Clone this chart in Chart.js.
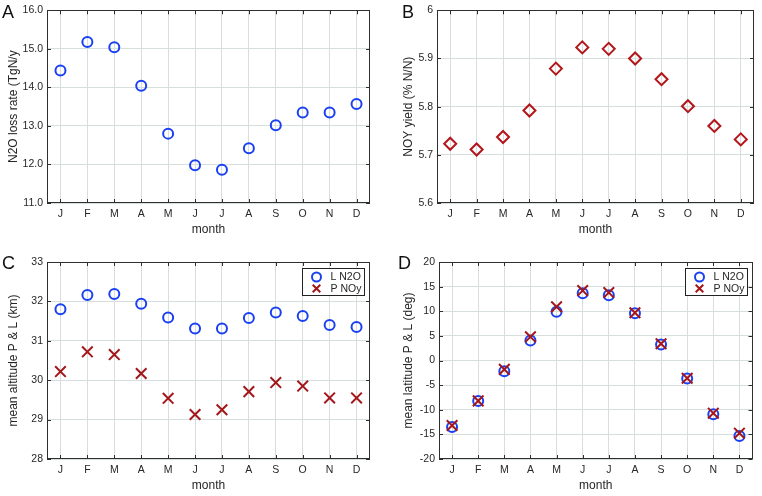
<!DOCTYPE html>
<html><head><meta charset="utf-8">
<script src="https://cdn.jsdelivr.net/npm/chart.js@4.4.1/dist/chart.umd.min.js"></script>
<style>
html,body{margin:0;padding:0;background:#fff;overflow:hidden;}
#wrap{position:relative;width:762px;height:496px;}
canvas{position:absolute;}
.lbl{position:absolute;font:18px "Liberation Sans",Arial,sans-serif;color:#111;line-height:18px;}
</style></head><body>
<div id="wrap">
<canvas id="cA" width="381" height="248" style="left:0;top:0"></canvas>
<canvas id="cB" width="381" height="248" style="left:381px;top:0"></canvas>
<canvas id="cC" width="381" height="248" style="left:0;top:248px"></canvas>
<canvas id="cD" width="381" height="248" style="left:381px;top:248px"></canvas>
<div class="lbl" style="left:2px;top:2.6px">A</div>
<div class="lbl" style="left:402px;top:2.6px">B</div>
<div class="lbl" style="left:2px;top:253.6px">C</div>
<div class="lbl" style="left:398px;top:253.6px">D</div>
</div>
<script>
// ---- data ----
const months = ['J','F','M','A','M','J','J','A','S','O','N','D'];
const n2oLoss = [14.44,15.18,15.04,14.04,12.80,11.98,11.86,12.42,13.02,13.35,13.35,13.57];
const noyYield = [5.723,5.711,5.737,5.792,5.879,5.923,5.920,5.900,5.857,5.801,5.760,5.732];
const altL = [31.80,32.16,32.19,31.94,31.59,31.31,31.31,31.58,31.72,31.63,31.40,31.35];
const altP = [30.22,30.72,30.65,30.17,29.54,29.13,29.25,29.71,29.94,29.85,29.55,29.55];
const latL = [-13.5,-8.2,-2.2,4.05,9.9,13.65,13.25,9.6,3.25,-3.65,-10.9,-15.35];
const latP = [-13.2,-8.2,-1.8,4.8,10.9,14.2,13.8,9.7,3.4,-3.6,-10.7,-14.75];
const ticksA = [11,12,13,14,15,16];
const ticksB = [5.6,5.7,5.8,5.9,6.0];
const ticksC = [28,29,30,31,32,33];
const ticksD = [-20,-15,-10,-5,0,5,10,15,20];
const legendLabels = ['L N2O','P NOy'];

Chart.defaults.font.family = '"Liberation Sans", Arial, Helvetica, sans-serif';
const txt = '#262626';
const gridColor = 'rgb(214,222,222)';
const blue = '#1a40f2';
const red = '#b3161a';
const xred = '#a3161a';
const titleSize = 12;
const halfLH = titleSize*1.2/2;

const framePlugin = {
  id:'frame',
  afterDatasetsDraw(chart){
    const {ctx, chartArea:a, scales} = chart;
    ctx.save();
    ctx.strokeStyle = '#2e2e2e'; ctx.lineWidth = 1;
    ctx.beginPath();
    const tl = 4;
    scales.x.ticks.forEach((t,i)=>{
      const px = Math.round(scales.x.getPixelForTick(i))+0.5;
      ctx.moveTo(px,a.bottom); ctx.lineTo(px,a.bottom-tl);
      ctx.moveTo(px,a.top); ctx.lineTo(px,a.top+tl);
    });
    scales.y.ticks.forEach((t)=>{
      const py = Math.round(scales.y.getPixelForValue(t.value))+0.5;
      ctx.moveTo(a.left,py); ctx.lineTo(a.left+tl,py);
      ctx.moveTo(a.right,py); ctx.lineTo(a.right-tl,py);
    });
    ctx.stroke();
    ctx.strokeRect(Math.round(a.left)+0.5, Math.round(a.top)+0.5, Math.round(a.right-a.left)-1, Math.round(a.bottom-a.top)-1);
    const lo = chart.options.plugins.frame || {};
    if (lo.legend){
      const w=62,h=27;
      const x0 = Math.round(a.right-6-w)+0.5, y0 = Math.round(a.top+6)+0.5;
      ctx.fillStyle='#fff'; ctx.fillRect(x0,y0,w,h);
      ctx.strokeStyle='#222'; ctx.lineWidth=1; ctx.strokeRect(x0,y0,w,h);
      chart.data.datasets.forEach((ds,i)=>{
        const cy = y0 + 8.5 + i*11.5, mx = x0 + 14;
        ctx.strokeStyle = ds.pointBorderColor; ctx.lineWidth = 2;
        ctx.beginPath();
        if (ds.pointStyle==='circle'){ ctx.arc(mx,cy,4.5,0,Math.PI*2); }
        else { const r=3.8; ctx.moveTo(mx-r,cy-r); ctx.lineTo(mx+r,cy+r); ctx.moveTo(mx+r,cy-r); ctx.lineTo(mx-r,cy+r); }
        ctx.stroke();
        ctx.fillStyle = txt; ctx.font = '10.5px "Liberation Sans", Arial, sans-serif';
        ctx.textBaseline='middle'; ctx.textAlign='left';
        ctx.fillText(ds.label, x0+28, cy+0.5);
      });
    }
    ctx.restore();
  }
};

function panel(id, cfg){
  const W=381,H=248;
  const a = cfg.area;
  return new Chart(document.getElementById(id), {
    type:'line',
    data:{labels:months, datasets:cfg.datasets},
    options:{
      responsive:false, animation:false, devicePixelRatio:1, events:[],
      layout:{padding:{left:0, top:a.t, right:W-a.r, bottom:0}},
      plugins:{legend:{display:false}, tooltip:{enabled:false}, frame:{legend:!!cfg.legend}},
      scales:{
        x:{type:'category', offset:true,
          grid:{offset:false, color:gridColor, drawTicks:false, lineWidth:1},
          border:{display:false},
          ticks:{padding:5, color:txt, font:{size:10.5}, maxRotation:0, autoSkip:false},
          title:{display:true, text:'month', color:txt, font:{size:titleSize}, padding:{top:0, bottom:H-a.b-26.5-halfLH}},
          afterFit(s){ s.height = H - a.b; }
        },
        y:{min:cfg.yTicks[0], max:cfg.yTicks[cfg.yTicks.length-1],
          afterBuildTicks(s){ s.ticks = cfg.yTicks.map(v=>({value:v})); },
          grid:{color:gridColor, drawTicks:false, lineWidth:1},
          border:{display:false},
          ticks:{padding:4, color:txt, font:{size:10.5}, autoSkip:false, callback:cfg.fmt},
          title:{display:true, text:cfg.yTitle, color:txt, font:{size:titleSize}, padding:{top:cfg.yTitleX-halfLH, bottom:0}},
          afterFit(s){ s.width = a.l; }
        }
      }
    },
    plugins:[framePlugin]
  });
}

function circles(label, data){
  return {label, data, showLine:false, pointStyle:'circle', pointRadius:5, pointBorderWidth:2,
    pointBorderColor:blue, pointBackgroundColor:'rgba(0,0,0,0)', borderColor:blue, order:1, clip:false};
}
function crosses(label, data){
  return {label, data, showLine:false, pointStyle:'crossRot', pointRadius:7.5, pointBorderWidth:2,
    pointBorderColor:xred, pointBackgroundColor:'rgba(0,0,0,0)', borderColor:xred, order:0, clip:false};
}

panel('cA', {area:{l:47,t:5,r:370,b:203}, yTicks:ticksA, fmt:v=>Number(v).toFixed(1),
  yTitle:'N2O loss rate (TgN/y', yTitleX:14, datasets:[circles('N2O loss rate', n2oLoss)]});
panel('cB', {area:{l:56,t:5,r:380,b:203}, yTicks:ticksB, fmt:v=>String(Number(Number(v).toFixed(1))),
  yTitle:'NOY yield (% N/N)', yTitleX:28, datasets:[{label:'NOY yield', data:noyYield, showLine:false,
    pointStyle:'rectRot', pointRadius:6, pointBorderWidth:2, pointBorderColor:red,
    pointBackgroundColor:'rgba(0,0,0,0)', borderColor:red, clip:false}]});
panel('cC', {area:{l:47,t:14,r:370,b:211}, yTicks:ticksC, fmt:v=>String(v), legend:true,
  yTitle:'mean altitude P & L (km)', yTitleX:14,
  datasets:[circles(legendLabels[0], altL), crosses(legendLabels[1], altP)]});
panel('cD', {area:{l:58,t:14,r:380,b:211}, yTicks:ticksD, fmt:v=>String(v), legend:true,
  yTitle:'mean latitude P & L (deg)', yTitleX:28,
  datasets:[circles(legendLabels[0], latL), crosses(legendLabels[1], latP)]});
</script>
</body></html>
